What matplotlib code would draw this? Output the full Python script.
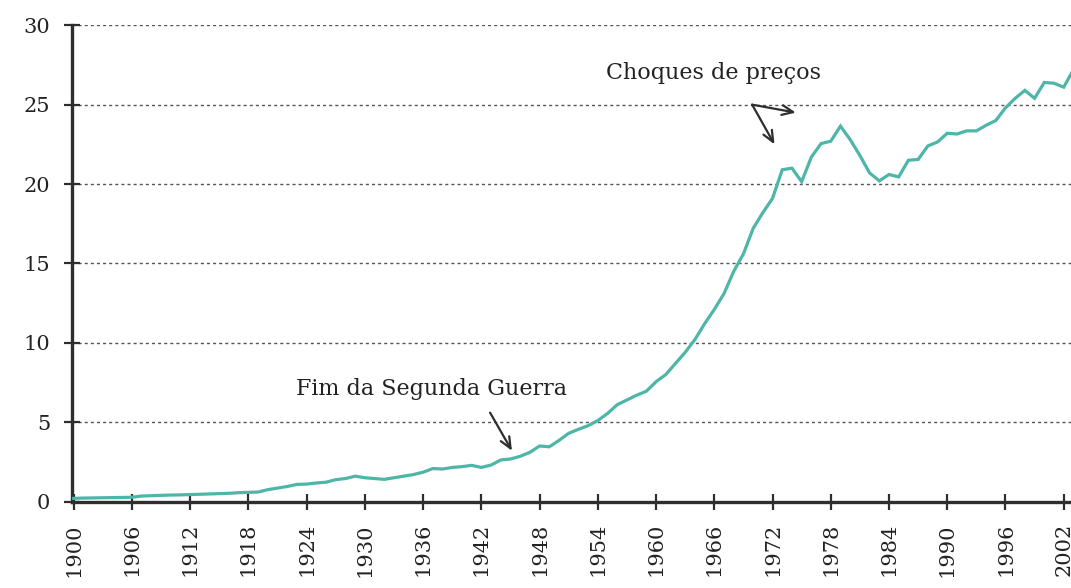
import numpy as np
import matplotlib
matplotlib.use("Agg")
import matplotlib.pyplot as plt

# yearly values
years = list(range(1900, 2004))
values = [
    0.20, 0.22, 0.23, 0.24, 0.25, 0.26, 0.27, 0.35, 0.37, 0.39,   # 1900s
    0.41, 0.42, 0.44, 0.46, 0.48, 0.50, 0.52, 0.56, 0.58, 0.60,   # 1910s
    0.75, 0.85, 0.95, 1.08, 1.10, 1.17, 1.22, 1.38, 1.45, 1.60,   # 1920s
    1.50, 1.45, 1.40, 1.50, 1.60, 1.70, 1.85, 2.08, 2.05, 2.15,   # 1930s
    2.20, 2.28, 2.15, 2.30, 2.62, 2.68, 2.85, 3.10, 3.50, 3.45,   # 1940s
    3.85, 4.30, 4.55, 4.78, 5.10, 5.55, 6.10, 6.40, 6.70, 6.95,   # 1950s
    7.55, 8.00, 8.70, 9.40, 10.20, 11.20, 12.10, 13.10, 14.50, 15.60,  # 1960s
    17.20, 18.20, 19.10, 20.90, 21.00, 20.15, 21.70, 22.55, 22.70, 23.65,  # 1970s
    22.80, 21.80, 20.70, 20.20, 20.60, 20.45, 21.50, 21.55, 22.40, 22.65,  # 1980s
    23.20, 23.15, 23.35, 23.35, 23.70, 24.00, 24.80, 25.40, 25.90, 25.40,  # 1990s
    26.40, 26.35, 26.10, 27.20,                                     # 2000s
]

x_ticks = list(range(1900, 2003, 6))
y_ticks = [0, 5, 10, 15, 20, 25, 30]

plt.rcParams['font.family'] = ['DejaVu Serif']
ink = '#2e2e2e'

fig = plt.figure(figsize=(10.71, 5.88), dpi=100)
ax = fig.add_axes([0.067, 0.147, 0.933, 0.81])

ax.plot(years, values, color='#4db6a8', lw=2.3, solid_joinstyle='miter', zorder=3)

ax.set_xlim(1899.8, 2002.75)
ax.set_ylim(0, 30)
ax.set_xticks(x_ticks)
ax.set_yticks(y_ticks)
ax.set_xticklabels([str(t) for t in x_ticks], rotation=90)

for y in y_ticks[1:]:
    ax.axhline(y, color='#555555', lw=1.0, ls=(0, (2.2, 2.2)), zorder=1)

for side in ['top', 'right']:
    ax.spines[side].set_visible(False)
for side in ['left', 'bottom']:
    ax.spines[side].set_color(ink)
    ax.spines[side].set_linewidth(2.4)

ax.tick_params(axis='both', direction='inout', length=11, width=1.6,
               color=ink, labelsize=15, labelcolor='#222222')
ax.tick_params(axis='x', pad=10)
ax.tick_params(axis='y', pad=10)

arrow = dict(arrowstyle='->,head_length=0.8,head_width=0.35',
             color=ink, lw=1.6, shrinkA=0, shrinkB=0)

# annotations
ax.text(1936.9, 7.1, 'Fim da Segunda Guerra', ha='center', va='center',
        fontsize=16, color='#222222')
ax.annotate('', xy=(1945.15, 3.2), xytext=(1942.9, 5.6), arrowprops=arrow)

ax.text(1965.95, 27.0, 'Choques de preços', ha='center', va='center',
        fontsize=16, color='#222222')
for tip in [(1974.4, 24.5), (1972.2, 22.5)]:
    ax.annotate('', xy=tip, xytext=(1969.9, 25.0), arrowprops=arrow)

fig.savefig('out.png', dpi=100)
